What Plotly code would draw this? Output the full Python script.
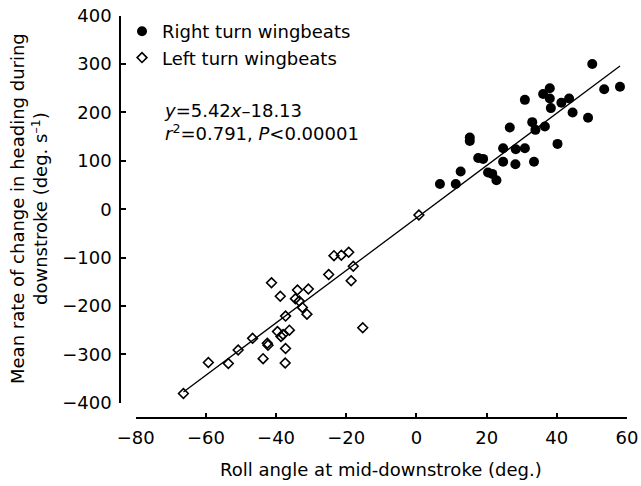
import plotly.graph_objects as go

# Roll angle (deg.) vs. mean rate of change in heading (deg. s^-1)
right_roll = [6.7, 11.2, 12.6, 15.2, 15.2, 17.6, 19.0, 20.4, 21.6, 22.8,
              24.7, 24.7, 26.6, 28.3, 28.2, 30.9, 30.9, 33.0, 33.9, 33.5,
              36.6, 36.1, 38.0, 38.0, 38.3, 40.2, 41.3, 43.5, 44.5, 48.9,
              50.1, 53.5, 58.0]
right_rate = [52, 52, 78, 148, 141, 106, 104, 76, 73, 60,
              126, 98, 169, 124, 93, 126, 226, 180, 164, 98,
              171, 238, 250, 229, 209, 135, 220, 229, 200, 189,
              300, 248, 253]

left_roll = [-66.4, -59.3, -53.6, -50.8, -46.7, -43.7, -42.5, -42.3, -41.3, -39.6,
             -38.8, -38.6, -38.0, -37.3, -37.3, -37.4, -36.2, -33.9, -34.5, -33.4,
             -32.5, -31.2, -30.8, -25.0, -23.5, -21.4, -19.3, -18.0, -18.6, -15.3,
             0.7]
left_rate = [-381, -317, -319, -291, -267, -309, -277, -281, -152, -253,
             -180, -263, -259, -221, -288, -318, -250, -167, -185, -190,
             -203, -217, -165, -135, -96, -95, -89, -118, -148, -245,
             -12]

# Least-squares fit reported on the chart
slope = 5.42
intercept = -18.13
r_squared = 0.791

x_ticks = [-80, -60, -40, -20, 0, 20, 40, 60]
y_ticks = [-400, -300, -200, -100, 0, 100, 200, 300, 400]

W, H = 641, 486
FONT = dict(family="DejaVu Sans", size=18, color="black")


def fx(px):
    return px / W


def fy(px):
    return 1 - px / H


all_roll = right_roll + left_roll
fit_x = [min(all_roll), max(all_roll)]
fit_y = [slope * v + intercept for v in fit_x]

fig = go.Figure()

fig.add_trace(go.Scatter(
    x=fit_x, y=fit_y, mode="lines",
    line=dict(color="black", width=1.3),
    showlegend=False, hoverinfo="skip",
))

fig.add_trace(go.Scatter(
    x=right_roll, y=right_rate, mode="markers",
    name="Right turn wingbeats",
    marker=dict(symbol="circle", size=10, color="black",
                line=dict(width=0)),
))

fig.add_trace(go.Scatter(
    x=left_roll, y=left_rate, mode="markers",
    name="Left turn wingbeats",
    marker=dict(symbol="diamond-open", size=7.5, color="black",
                line=dict(width=1.6, color="black")),
))

axis_common = dict(
    showgrid=False, zeroline=False, showline=True,
    linecolor="black", linewidth=1.5,
    ticks="inside", ticklen=5, tickwidth=1.5, tickcolor="black",
    tickfont=FONT, anchor="free",
)

fig.update_layout(
    width=W, height=H,
    margin=dict(l=0, r=0, t=0, b=0),
    paper_bgcolor="white", plot_bgcolor="white",
    font=FONT,
    xaxis=dict(
        axis_common,
        domain=[fx(135.7), fx(627.0)],
        range=[-80, 60],
        tickvals=x_ticks,
        position=fy(418.3),
        ticklabelstandoff=3,
        automargin=False,
    ),
    yaxis=dict(
        axis_common,
        domain=[fy(402.7), fy(15.7)],
        range=[-400, 400],
        tickvals=y_ticks,
        position=fx(120.0),
        ticklabelstandoff=4,
        automargin=False,
    ),
    legend=dict(
        x=fx(122), y=fy(13), xanchor="left", yanchor="top",
        bgcolor="rgba(0,0,0,0)", borderwidth=0,
        font=FONT, itemwidth=30,
    ),
    showlegend=True,
)

fig.add_annotation(
    xref="paper", yref="paper", x=fx(162), y=fy(121.5),
    xanchor="left", yanchor="middle", align="left", showarrow=False,
    text=(f"<i>y</i>={slope:.2f}<i>x</i>–{abs(intercept):.2f}<br>"
          f"<i>r</i><sup>2</sup>={r_squared:.3f}, <i>P</i>&lt;0.00001"),
    font=FONT,
)

fig.add_annotation(
    xref="paper", yref="paper", x=fx(381), y=fy(469),
    xanchor="center", yanchor="middle", showarrow=False,
    text="Roll angle at mid-downstroke (deg.)", font=FONT,
)

fig.add_annotation(
    xref="paper", yref="paper", x=fx(29), y=fy(209),
    xanchor="center", yanchor="middle", showarrow=False, textangle=-90,
    text="Mean rate of change in heading during<br>downstroke (deg. s<sup>–1</sup>)",
    font=FONT,
)

fig.write_html("out.html")
